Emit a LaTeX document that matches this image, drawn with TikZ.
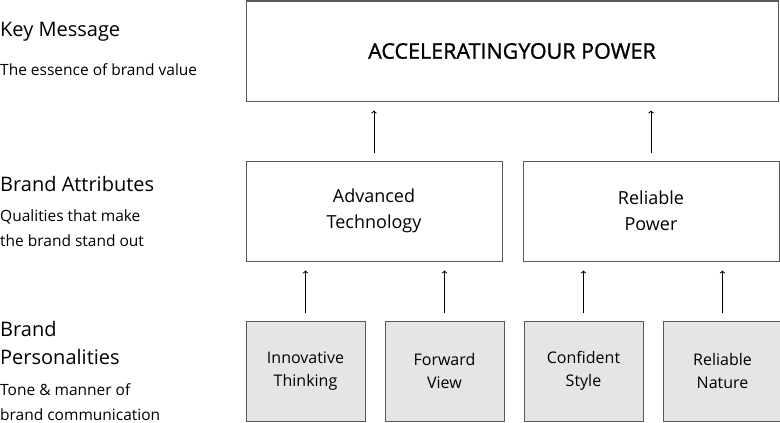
\documentclass[tikz,border=0pt]{standalone}
\usepackage{fontspec}
\setmainfont{Open Sans}
\usetikzlibrary{arrows, calc, positioning}

\begin{document}
\begin{tikzpicture}[x=1pt, y=-1pt, >=to, font=\fontsize{18}{26}\selectfont]
    \tikzset{
      box/.style={draw=black!65, line width=1pt, minimum width=256pt, minimum height=100pt, align=center, inner sep=0pt},
      pbox/.style={box, fill=black!10, minimum width=119pt, font=\fontsize{16}{23}\selectfont},
      head/.style={anchor=west, inner sep=0pt, align=left, font=\fontsize{20}{28}\selectfont},
      sub/.style={anchor=west, inner sep=0pt, align=left, font=\fontsize{15.5}{25}\selectfont},
      up/.style={->, line width=1pt}
    }
    \useasboundingbox (0,0) rectangle (780,423);

    \node[head] (khead) at (0,32) {Key Message};
    \node[sub] (ksub) at (0,70) {The essence of brand value};
    \node[head] (ahead) at (0,184) {Brand Attributes};
    \node[sub] (asub) at (0,228.5) {Qualities that make\\the brand stand out};
    \node[head] (phead) at (0,343) {Brand\\Personalities};
    \node[sub] (psub) at (0,402) {Tone \& manner of\\brand communication};

    \node[box, minimum width=532pt, font=\fontsize{21.5}{20}\selectfont\addfontfeature{FakeBold=1.2}] (msg) at (512,51) {ACCELERATINGYOUR POWER};

    \node[box] (adv) at (374,211) {Advanced\\Technology};
    \node[box, right=20pt of adv] (rel) {Reliable\\Power};

    \node[pbox] (inno) at (305.5,371) {Innovative\\Thinking};
    \node[pbox, right=19pt of inno] (fwd) {Forward\\View};
    \node[pbox, right=19pt of fwd] (conf) {Confident\\Style};
    \node[pbox, right=19pt of conf] (nat) {Reliable\\Nature};

    \draw[up] ([yshift=8pt]adv.north) -- ($(adv.north |- msg.south)+(0,9)$);
    \draw[up] ([yshift=8pt]rel.north) -- ($(rel.north |- msg.south)+(0,9)$);

    \draw[up] ([yshift=8pt]inno.north) -- ($(inno.north |- adv.south)+(0,9)$);
    \draw[up] ([yshift=8pt]fwd.north) -- ($(fwd.north |- adv.south)+(0,9)$);
    \draw[up] ([yshift=8pt]conf.north) -- ($(conf.north |- rel.south)+(0,9)$);
    \draw[up] ([yshift=8pt]nat.north) -- ($(nat.north |- rel.south)+(0,9)$);
\end{tikzpicture}
\end{document}
